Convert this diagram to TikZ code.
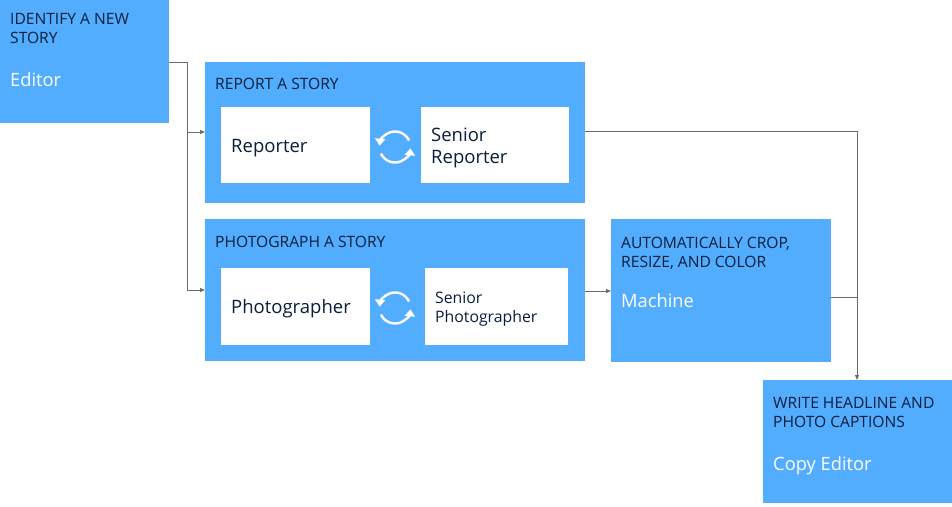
\documentclass[tikz,border=0pt]{standalone}
\usepackage{fontspec}
\setmainfont{Open Sans}
\usetikzlibrary{arrows.meta}
\definecolor{bblue}{HTML}{53ADFF}
\definecolor{ttext}{HTML}{0B1E3A}
\definecolor{lline}{HTML}{6B6B6B}
\tikzset{
  bbox/.style={fill=bblue, draw=none},
  wbox/.style={fill=white, draw=none},
  ttl/.style={anchor=base west, inner sep=0pt, text=ttext, font=\fontsize{15.6}{19}\selectfont, align=left},
  role/.style={anchor=base west, inner sep=0pt, text=white, font=\fontsize{18.3}{22}\selectfont},
  inner/.style={anchor=base west, inner sep=0pt, text=ttext, align=left},
  conn/.style={draw=lline, line width=0.8pt},
  arr/.style={conn, -{Triangle[length=5pt,width=4pt]}},
  cyc/.style={draw=white, line width=2.4pt, -{Triangle[length=7pt,width=10pt]}}
}
\begin{document}
\begin{tikzpicture}[x=1pt,y=-1pt]
\useasboundingbox (0,0) rectangle (952,506);
% boxes
\path[bbox] (0,0) rectangle (169,123);
\path[bbox] (205,62) rectangle (585,203);
\path[bbox] (205,219) rectangle (585,361);
\path[bbox] (611,219) rectangle (831,362);
\path[bbox] (763,380) rectangle (952,503);
\path[wbox] (221,107) rectangle (370,183);
\path[wbox] (421,107) rectangle (569,183);
\path[wbox] (221,268) rectangle (370,345);
\path[wbox] (425,268) rectangle (568,345);
% texts (base = baseline of last line)
\node[ttl] (t1) at (10,43) {IDENTIFY A NEW\\STORY};
\node[role] (r1) at (10,86) {Editor};
\node[ttl] (t2) at (215,89) {REPORT A STORY};
\node[inner, font=\fontsize{18.5}{21.5}\selectfont] (n1) at (231,152) {Reporter};
\node[inner, font=\fontsize{18.5}{21.5}\selectfont] (n2) at (431,163) {Senior\\Reporter};
\node[ttl] (t3) at (215,247) {PHOTOGRAPH A STORY};
\node[inner, font=\fontsize{18.5}{22}\selectfont] (n3) at (231,313) {Photographer};
\node[inner, font=\fontsize{15.8}{19}\selectfont] (n4) at (435,322) {Senior\\Photographer};
\node[ttl] (t4) at (621,267) {AUTOMATICALLY CROP,\\RESIZE, AND COLOR};
\node[role] (r4) at (621,307) {Machine};
\node[ttl] (t5) at (773,427) {WRITE HEADLINE AND\\PHOTO CAPTIONS};
\node[role] (r5) at (773,470) {Copy Editor};
% coordinates
\coordinate (ed) at (169,62);
\coordinate (rep) at (205,132);
\coordinate (pho) at (205,290);
\coordinate (repo) at (585,131);
\coordinate (phoo) at (585,291);
\coordinate (mach) at (611,291);
\coordinate (macho) at (831,297);
\coordinate (ced) at (857,380);
\coordinate (j1) at (187,62);
\coordinate (j2) at (187,132);
\coordinate (j3) at (187,290);
\coordinate (k1) at (857,131);
\coordinate (k2) at (857,297);
% connectors
\draw[conn] (ed) -- (j1) -- (j3);
\draw[arr] (j2) -- (rep);
\draw[arr] (j3) -- (pho);
\draw[arr] (phoo) -- (mach);
\draw[conn] (repo) -- (k1);
\draw[arr] (k1) -- (ced);
\draw[conn] (macho) -- (k2);
% cycle arrows
\foreach \cy in {147,308} {
  \draw[cyc] (395,\cy) ++(155:15.5) arc[start angle=155, end angle=5, radius=15.5];
  \draw[cyc] (395,\cy) ++(335:15.5) arc[start angle=335, end angle=185, radius=15.5];
}
\end{tikzpicture}
\end{document}
